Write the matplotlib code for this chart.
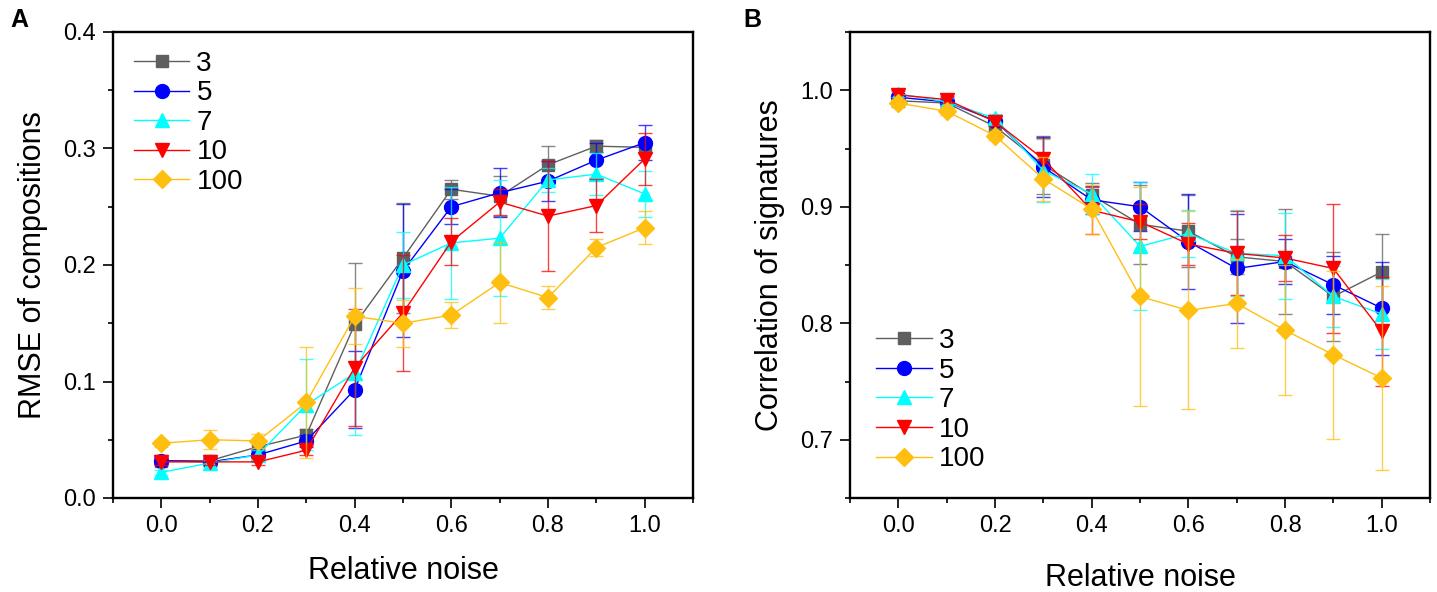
import numpy as np
import matplotlib
matplotlib.use('Agg')
import matplotlib.pyplot as plt
from matplotlib.ticker import MultipleLocator

plt.rcParams['font.family'] = ['Liberation Sans', 'DejaVu Sans']

#%% data
noise = [0.0, 0.1, 0.2, 0.3, 0.4, 0.5, 0.6, 0.7, 0.8, 0.9, 1.0]
labels = ['3', '5', '7', '10', '100']

# panel A : RMSE of compositions
rmse_3 = [0.032, 0.032, 0.044, 0.054, 0.149, 0.206, 0.265, 0.259, 0.286, 0.302, 0.301]
rmse_5 = [0.032, 0.031, 0.037, 0.049, 0.093, 0.195, 0.250, 0.262, 0.272, 0.290, 0.305]
rmse_7 = [0.022, 0.030, 0.037, 0.080, 0.107, 0.200, 0.219, 0.223, 0.273, 0.278, 0.261]
rmse_10 = [0.031, 0.031, 0.031, 0.041, 0.112, 0.159, 0.220, 0.254, 0.242, 0.251, 0.291]
rmse_100 = [0.047, 0.050, 0.049, 0.082, 0.156, 0.150, 0.157, 0.185, 0.172, 0.215, 0.232]

rmse_err_3 = [0.003, 0.003, 0.004, 0.005, 0.053, 0.047, 0.008, 0.017, 0.016, 0.005, 0.005]
rmse_err_5 = [0.003, 0.003, 0.004, 0.005, 0.033, 0.057, 0.015, 0.021, 0.017, 0.015, 0.015]
rmse_err_7 = [0.002, 0.003, 0.004, 0.039, 0.053, 0.028, 0.048, 0.050, 0.010, 0.018, 0.020]
rmse_err_10 = [0.003, 0.003, 0.003, 0.004, 0.050, 0.050, 0.020, 0.011, 0.047, 0.023, 0.022]
rmse_err_100 = [0.003, 0.008, 0.006, 0.048, 0.024, 0.020, 0.011, 0.035, 0.010, 0.007, 0.014]

# panel B : correlation of signatures
corr_3 = [0.991, 0.989, 0.969, 0.936, 0.910, 0.885, 0.879, 0.857, 0.853, 0.823, 0.844]
corr_5 = [0.994, 0.990, 0.974, 0.934, 0.906, 0.900, 0.870, 0.847, 0.853, 0.833, 0.813]
corr_7 = [0.997, 0.990, 0.976, 0.931, 0.911, 0.866, 0.877, 0.860, 0.858, 0.823, 0.808]
corr_10 = [0.996, 0.992, 0.973, 0.941, 0.897, 0.887, 0.868, 0.860, 0.856, 0.847, 0.793]
corr_100 = [0.989, 0.982, 0.961, 0.924, 0.898, 0.823, 0.811, 0.817, 0.794, 0.773, 0.753]

corr_err_3 = [0.003, 0.003, 0.004, 0.025, 0.010, 0.034, 0.031, 0.015, 0.045, 0.038, 0.033]
corr_err_5 = [0.003, 0.003, 0.004, 0.026, 0.012, 0.021, 0.041, 0.047, 0.019, 0.025, 0.040]
corr_err_7 = [0.003, 0.003, 0.004, 0.027, 0.017, 0.055, 0.020, 0.037, 0.037, 0.026, 0.030]
corr_err_10 = [0.003, 0.003, 0.004, 0.018, 0.020, 0.015, 0.018, 0.036, 0.020, 0.055, 0.047]
corr_err_100 = [0.003, 0.003, 0.004, 0.019, 0.021, 0.094, 0.085, 0.038, 0.056, 0.072, 0.079]

colors = ['#5f5f5f', '#0000ff', '#00ffff', '#ff0000', '#ffbf10']
markers = ['s', 'o', '^', 'v', 'D']
msizes = [8.5, 10, 10, 10, 9]

rmse = [rmse_3, rmse_5, rmse_7, rmse_10, rmse_100]
rmse_err = [rmse_err_3, rmse_err_5, rmse_err_7, rmse_err_10, rmse_err_100]
corr = [corr_3, corr_5, corr_7, corr_10, corr_100]
corr_err = [corr_err_3, corr_err_5, corr_err_7, corr_err_10, corr_err_100]

#%% figure
fig = plt.figure(figsize=(14.37, 5.92), dpi=100)
axA = fig.add_axes([113/1437, 94/592, 580/1437, 466/592])
axB = fig.add_axes([850/1437, 94/592, 580/1437, 466/592])


def draw(ax, ys, errs):
    handles = []
    for k in range(5):
        ax.errorbar(noise, ys[k], yerr=errs[k], fmt='none', ecolor=colors[k],
                    elinewidth=1, capsize=5, capthick=1, alpha=0.75)
        h, = ax.plot(noise, ys[k], color=colors[k], lw=1, marker=markers[k],
                     ms=msizes[k], mec=colors[k], mfc=colors[k], label=labels[k])
        handles.append(h)
    ax.set_xlim(-0.1, 1.1)
    ax.xaxis.set_major_locator(MultipleLocator(0.2))
    ax.xaxis.set_minor_locator(MultipleLocator(0.1))
    ax.yaxis.set_minor_locator(MultipleLocator(0.05))
    ax.tick_params(which='major', direction='out', length=7, width=1.2,
                   labelsize=17, pad=5)
    ax.tick_params(which='minor', direction='out', length=3.5, width=1.2)
    for s in ax.spines.values():
        s.set_linewidth(1.7)
    return handles


hA = draw(axA, rmse, rmse_err)
axA.set_ylim(0, 0.4)
axA.yaxis.set_major_locator(MultipleLocator(0.1))
axA.set_ylabel('RMSE of compositions', fontsize=22, labelpad=11)
axA.set_xlabel('Relative noise', fontsize=22, labelpad=14)
axA.legend(handles=hA, loc='upper left', bbox_to_anchor=(0.036, 0.96),
           frameon=False, fontsize=20, handlelength=2.0, handletextpad=0.25,
           labelspacing=0.13, borderpad=0, borderaxespad=0)

hB = draw(axB, corr, corr_err)
axB.set_ylim(0.65, 1.05)
axB.yaxis.set_major_locator(MultipleLocator(0.1))
axB.set_ylabel('Correlation of signatures', fontsize=22, labelpad=11)
axB.set_xlabel('Relative noise', fontsize=22, labelpad=19)
axB.legend(handles=hB, loc='lower left', bbox_to_anchor=(0.045, 0.055),
           frameon=False, fontsize=20, handlelength=2.0, handletextpad=0.25,
           labelspacing=0.13, borderpad=0, borderaxespad=0)

fig.text(10/1437, 1 - 8/592, 'A', fontsize=18, fontweight='bold', va='top', ha='left')
fig.text(743/1437, 1 - 8/592, 'B', fontsize=18, fontweight='bold', va='top', ha='left')

fig.savefig('out.png', dpi=100)
